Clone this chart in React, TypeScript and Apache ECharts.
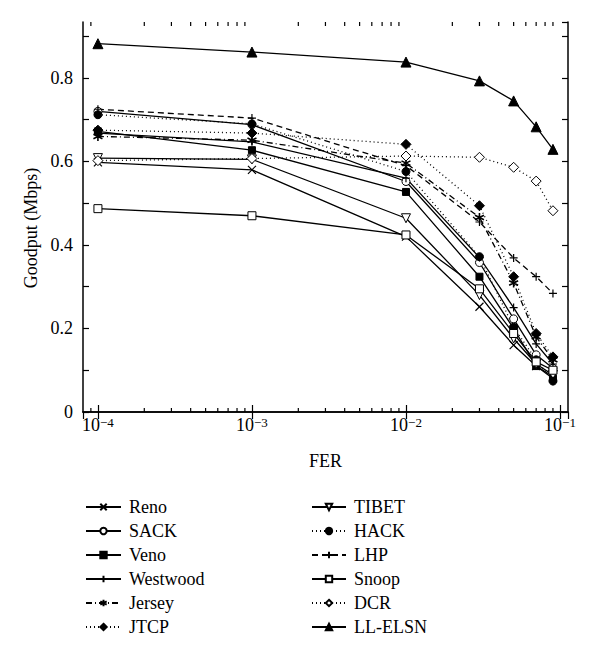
import React, { useEffect, useRef } from "react";
import * as echarts from "echarts";

const FER = [1e-4, 1e-3, 1e-2, 0.03, 0.05, 0.07, 0.09];

const reno = [0.598, 0.58, 0.42, 0.252, 0.16, 0.11, 0.085];
const sack = [0.72, 0.688, 0.552, 0.358, 0.223, 0.137, 0.105];
const veno = [0.672, 0.627, 0.527, 0.324, 0.2, 0.11, 0.08];
const westwood = [0.668, 0.647, 0.56, 0.37, 0.25, 0.163, 0.115];
const jersey = [0.66, 0.651, 0.596, 0.466, 0.309, 0.18, 0.125];
const jtcp = [0.675, 0.668, 0.641, 0.494, 0.324, 0.188, 0.132];
const tibet = [0.608, 0.605, 0.464, 0.28, 0.176, 0.115, 0.089];
const hack = [0.712, 0.69, 0.576, 0.372, 0.203, 0.125, 0.074];
const lhp = [0.725, 0.704, 0.59, 0.455, 0.369, 0.324, 0.284];
const snoop = [0.487, 0.47, 0.424, 0.295, 0.188, 0.12, 0.1];
const dcr = [0.602, 0.607, 0.613, 0.61, 0.586, 0.553, 0.482];
const llelsn = [0.882, 0.862, 0.838, 0.793, 0.745, 0.683, 0.629];

const legendLeft = ["Reno", "SACK", "Veno", "Westwood", "Jersey", "JTCP"];
const legendRight = ["TIBET", "HACK", "LHP", "Snoop", "DCR", "LL-ELSN"];

const X_MIN = 8e-5;
const X_MAX = 0.1127;
const Y_MAX = 0.934;

const FONT = "'Liberation Serif', 'Times New Roman', serif";

const SOLID = "solid";
const DOTTED = [1, 3];
const DASHED = [6, 4];
const DASHDOT = [6, 3, 1, 3];

const X_PATH = "path://M0,0L10,10M10,0L0,10";
const PLUS_PATH = "path://M5,0L5,10M0,5L10,5";
const STAR_PATH = "path://M5,0L5,10M0.7,2.5L9.3,7.5M0.7,7.5L9.3,2.5";

function App() {
  const ref = useRef<HTMLDivElement>(null);
  useEffect(() => {
    if (!ref.current) return;
    const chart = echarts.init(ref.current, null, { renderer: "svg" });

    const mk = (
      name: string,
      values: number[],
      lineType: any,
      symbol: string,
      fill: string,
      opts: any = {}
    ) => ({
      name,
      type: "line",
      data: FER.map((f, i) => [f, values[i]]),
      symbol,
      symbolSize: opts.size ?? 8,
      symbolRotate: opts.rotate ?? 0,
      lineStyle: { color: "#000", width: 1.3, type: lineType },
      itemStyle: {
        color: fill,
        borderColor: "#000",
        borderWidth: opts.bw ?? 1,
      },
      emphasis: { disabled: true },
    });

    const minorTicks: number[][] = [];
    for (let e = -5; e <= -1; e++) {
      for (let m = 2; m <= 9; m++) {
        const v = m * Math.pow(10, e);
        if (v > X_MIN && v < X_MAX) minorTicks.push([v, 0]);
      }
    }

    const axisLineStyle = { color: "#000", width: 1.5 };
    const legendText = {
      fontFamily: FONT,
      fontSize: 18,
      color: "#000",
      lineHeight: 20,
      padding: [0, 0, 0, 3],
    };

    const option: any = {
      animation: false,
      textStyle: { fontFamily: FONT },
      grid: { left: 83, right: 32, top: 22, bottom: 247 },
      xAxis: [
        {
          type: "log",
          logBase: 10,
          min: X_MIN,
          max: X_MAX,
          name: "FER",
          nameLocation: "middle",
          nameGap: 40,
          nameTextStyle: { fontFamily: FONT, fontSize: 18, color: "#000" },
          axisLine: { show: true, lineStyle: axisLineStyle },
          axisTick: { show: true, inside: true, length: 7, lineStyle: { color: "#000", width: 1.2 } },
          splitLine: { show: false },
          axisLabel: {
            showMinLabel: false,
            showMaxLabel: false,
            margin: 4,
            formatter: (v: number) => {
              const e = Math.round(Math.log10(v));
              return "{b|10}{s|\u2212" + Math.abs(e) + "}";
            },
            rich: {
              b: { fontFamily: FONT, fontSize: 18, lineHeight: 18, color: "#000", verticalAlign: "bottom" },
              s: {
                fontFamily: FONT,
                fontSize: 13,
                lineHeight: 13,
                color: "#000",
                verticalAlign: "top",
                padding: [0, 0, 13, 0],
              },
            },
          },
        },
        {
          type: "log",
          logBase: 10,
          min: X_MIN,
          max: X_MAX,
          position: "top",
          axisLine: { show: true, lineStyle: axisLineStyle },
          axisTick: { show: true, inside: true, length: 7, lineStyle: { color: "#000", width: 1.2 } },
          axisLabel: { show: false },
          splitLine: { show: false },
        },
      ],
      yAxis: [
        {
          type: "value",
          min: 0,
          max: Y_MAX,
          interval: 0.1,
          axisLine: { show: true, lineStyle: axisLineStyle },
          axisTick: { show: true, inside: true, length: 6, lineStyle: { color: "#000", width: 1.2 } },
          splitLine: { show: false },
          axisLabel: {
            showMaxLabel: false,
            margin: 10,
            color: "#000",
            fontFamily: FONT,
            fontSize: 18,
            formatter: (v: number) => {
              const t = Math.round(v * 10);
              if (t % 2 !== 0) return "";
              return t === 0 ? "0" : (t / 10).toFixed(1);
            },
          },
        },
        {
          type: "value",
          min: 0,
          max: Y_MAX,
          interval: 0.1,
          position: "right",
          axisLine: { show: true, lineStyle: axisLineStyle },
          axisTick: { show: true, inside: true, length: 6, lineStyle: { color: "#000", width: 1.2 } },
          axisLabel: { show: false },
          splitLine: { show: false },
        },
      ],
      legend: [
        {
          data: legendLeft,
          orient: "vertical",
          left: 80,
          top: 492,
          height: 160,
          itemWidth: 35,
          itemHeight: 8,
          itemGap: 4,
          selectedMode: false,
          textStyle: legendText,
        },
        {
          data: legendRight,
          orient: "vertical",
          left: 306,
          top: 492,
          height: 160,
          itemWidth: 34,
          itemHeight: 8,
          itemGap: 4,
          selectedMode: false,
          textStyle: legendText,
        },
      ],
      graphic: [
        {
          type: "text",
          x: 31,
          y: 228,
          rotation: Math.PI / 2,
          style: {
            text: "Goodput (Mbps)",
            font: "18px " + FONT,
            fill: "#000",
            align: "center",
            verticalAlign: "middle",
          },
        },
      ],
      series: [
        mk("Reno", reno, SOLID, X_PATH, "#000", { size: 8, bw: 1.2 }),
        mk("SACK", sack, SOLID, "circle", "#fff", { size: 8 }),
        mk("Veno", veno, SOLID, "rect", "#000", { size: 7 }),
        mk("Westwood", westwood, SOLID, PLUS_PATH, "#000", { size: 8, bw: 1.2 }),
        mk("Jersey", jersey, DASHDOT, STAR_PATH, "#000", { size: 9, bw: 1.6 }),
        mk("JTCP", jtcp, DOTTED, "diamond", "#000", { size: 10 }),
        mk("TIBET", tibet, SOLID, "triangle", "#fff", { size: 9, rotate: 180 }),
        mk("HACK", hack, DOTTED, "circle", "#000", { size: 8 }),
        mk("LHP", lhp, DASHED, PLUS_PATH, "#000", { size: 8, bw: 1.2 }),
        mk("Snoop", snoop, SOLID, "rect", "#fff", { size: 8 }),
        mk("DCR", dcr, DOTTED, "diamond", "#fff", { size: 10 }),
        mk("LL-ELSN", llelsn, SOLID, "triangle", "#000", { size: 10 }),
        {
          name: "minorTicks",
          type: "custom",
          silent: true,
          clip: false,
          data: minorTicks,
          encode: { x: 0, y: 1 },
          renderItem: (params: any, api: any) => {
            const x = api.coord([api.value(0), 0])[0];
            const cs = params.coordSys;
            const top = cs.y;
            const bottom = cs.y + cs.height;
            const st = { stroke: "#000", lineWidth: 1.2 };
            return {
              type: "group",
              children: [
                { type: "line", shape: { x1: x, y1: bottom, x2: x, y2: bottom - 4 }, style: st },
                { type: "line", shape: { x1: x, y1: top, x2: x, y2: top + 4 }, style: st },
              ],
            };
          },
        },
      ],
    };

    chart.setOption(option);
    return () => chart.dispose();
  }, []);
  return (
    <div
      ref={ref}
      style={{ position: "absolute", left: 0, top: 0, width: 600, height: 659 }}
    />
  );
}

export default App;
